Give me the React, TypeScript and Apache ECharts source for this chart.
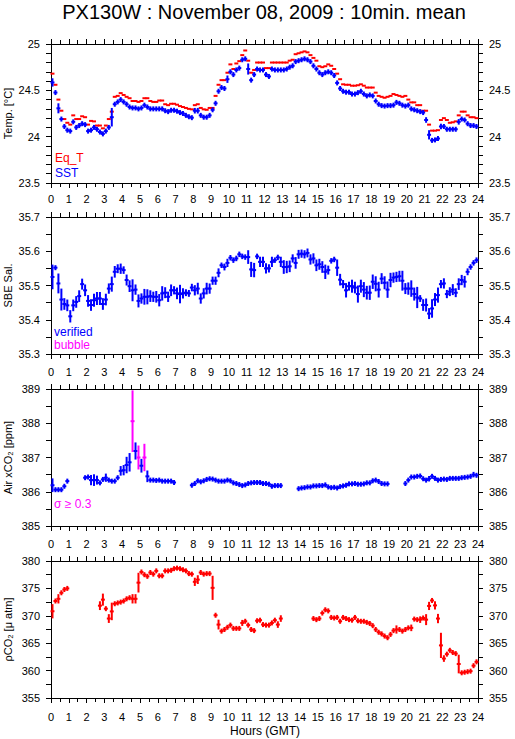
import React, { useEffect, useRef } from "react";
import * as echarts from "echarts";

const FONT = "'Liberation Sans', Arial, Helvetica, sans-serif";
const TITLE = "PX130W : November 08, 2009 : 10min. mean";
const HOUR_TICKS = [0, 24];

// 10-minute means, 144 per day (index i is centred on (i + 0.5) / 6 hours)
const EQ_T = [
  24.68, 24.56, 24.40, 24.28, 24.19, 24.15, 24.13, 24.23, 24.19, 24.19, 24.22, 24.21,
  24.13, 24.17, 24.165, 24.12, 24.12, 24.09, 24.12, 24.19, 24.27, 24.43, 24.44, 24.47,
  24.45, 24.43, 24.415, 24.385, 24.385, 24.375, 24.385, 24.415, 24.415, 24.385, 24.375, 24.375,
  24.39, 24.39, 24.35, 24.34, 24.355, 24.355, 24.345, 24.33, 24.32, 24.31, 24.30, 24.295,
  24.34, 24.35, 24.31, 24.295, 24.29, 24.31, 24.31, 24.44, 24.56, 24.61, 24.61, 24.69,
  24.78, 24.73, 24.79, 24.815, 24.88, 24.93, 24.82, 24.69, 24.72, 24.80, 24.80, 24.80,
  24.74, 24.74, 24.80, 24.80, 24.80, 24.80, 24.80, 24.80, 24.82, 24.83, 24.89, 24.90,
  24.91, 24.92, 24.91, 24.88, 24.85, 24.82, 24.76, 24.75, 24.76, 24.78, 24.765, 24.73,
  24.68, 24.62, 24.565, 24.56, 24.56, 24.55, 24.55, 24.555, 24.565, 24.55, 24.53, 24.53,
  24.53, 24.475, 24.44, 24.43, 24.42, 24.43, 24.44, 24.46, 24.45, 24.44, 24.43, 24.44,
  24.40, 24.37, 24.37, 24.34, 24.34, 24.28, 24.28, 24.13, 24.065, 24.065, 24.07, 24.18,
  24.20, 24.18, 24.15, 24.155, 24.165, 24.23, 24.27, 24.27, 24.23, 24.21, 24.21, 24.20,
];

const SST = [
  24.585, 24.476, 24.306, 24.19, 24.11, 24.07, 24.06, 24.16, 24.10, 24.12, 24.14, 24.13,
  24.06, 24.07, 24.10, 24.08, 24.05, 24.03, 24.06, 24.10, 24.21, 24.35, 24.375, 24.40,
  24.375, 24.35, 24.32, 24.31, 24.31, 24.30, 24.31, 24.34, 24.32, 24.30, 24.30, 24.30,
  24.30, 24.30, 24.28, 24.27, 24.285, 24.285, 24.275, 24.26, 24.25, 24.23, 24.215, 24.205,
  24.28, 24.28, 24.23, 24.21, 24.21, 24.23, 24.29, 24.36, 24.49, 24.53, 24.52, 24.62,
  24.70, 24.67, 24.72, 24.74, 24.83, 24.84, 24.73, 24.61, 24.67, 24.73, 24.72, 24.72,
  24.67, 24.65, 24.73, 24.72, 24.72, 24.72, 24.72, 24.73, 24.75, 24.765, 24.81, 24.82,
  24.83, 24.84, 24.83, 24.81, 24.765, 24.73, 24.69, 24.67, 24.69, 24.70, 24.69, 24.66,
  24.58, 24.52, 24.49, 24.48, 24.48, 24.46, 24.46, 24.475, 24.49, 24.46, 24.44, 24.45,
  24.44, 24.385, 24.35, 24.335, 24.33, 24.335, 24.335, 24.34, 24.37, 24.36, 24.34, 24.33,
  24.34, 24.30, 24.29, 24.28, 24.27, 24.26, 24.18, 24.02, 23.96, 23.965, 23.98, 24.11,
  24.11, 24.08, 24.08, 24.08, 24.08, 24.16, 24.19, 24.18, 24.14, 24.12, 24.12, 24.11,
];

const SST_SD = [
  0.045, 0.015, 0.054, 0.01, 0.01, 0.01, 0.01, 0.01, 0.01, 0.01, 0.01, 0.01,
  0.01, 0.01, 0.01, 0.01, 0.01, 0.01, 0.01, 0.01, 0.1, 0.01, 0.01, 0.01,
  0.01, 0.01, 0.01, 0.01, 0.01, 0.01, 0.01, 0.01, 0.01, 0.01, 0.01, 0.01,
  0.01, 0.01, 0.01, 0.01, 0.01, 0.01, 0.01, 0.01, 0.01, 0.01, 0.01, 0.01,
  0.03, 0.03, 0.01, 0.01, 0.01, 0.01, 0.01, 0.01, 0.01, 0.01, 0.01, 0.04,
  0.01, 0.01, 0.01, 0.01, 0.01, 0.01, 0.06, 0.02, 0.01, 0.01, 0.01, 0.01,
  0.01, 0.01, 0.01, 0.01, 0.01, 0.01, 0.01, 0.01, 0.01, 0.01, 0.01, 0.01,
  0.01, 0.01, 0.01, 0.01, 0.01, 0.01, 0.01, 0.01, 0.01, 0.01, 0.01, 0.01,
  0.01, 0.01, 0.01, 0.01, 0.01, 0.01, 0.01, 0.01, 0.01, 0.01, 0.01, 0.01,
  0.01, 0.01, 0.01, 0.01, 0.01, 0.01, 0.01, 0.01, 0.01, 0.01, 0.01, 0.01,
  0.01, 0.01, 0.01, 0.01, 0.01, 0.01, 0.03, 0.05, 0.01, 0.01, 0.01, 0.03,
  0.01, 0.01, 0.01, 0.01, 0.01, 0.03, 0.01, 0.01, 0.01, 0.01, 0.01, 0.01,
];

const SAL = [
  35.525, 35.552, 35.506, 35.459, 35.446, 35.442, 35.41, 35.442, 35.452, 35.469, 35.504, 35.486,
  35.455, 35.443, 35.457, 35.462, 35.462, 35.446, 35.459, 35.491, 35.504, 35.54, 35.549, 35.549,
  35.545, 35.516, 35.498, 35.486, 35.488, 35.455, 35.462, 35.467, 35.467, 35.469, 35.467, 35.467,
  35.457, 35.477, 35.479, 35.467, 35.486, 35.486, 35.477, 35.475, 35.477, 35.479, 35.477, 35.494,
  35.486, 35.491, 35.462, 35.477, 35.491, 35.491, 35.514, 35.514, 35.537, 35.559, 35.554, 35.566,
  35.581, 35.574, 35.579, 35.591, 35.585, 35.583, 35.583, 35.547, 35.545, 35.585, 35.569, 35.569,
  35.55, 35.55, 35.569, 35.574, 35.582, 35.569, 35.554, 35.554, 35.556, 35.579, 35.566, 35.591,
  35.593, 35.591, 35.595, 35.576, 35.579, 35.559, 35.562, 35.554, 35.54, 35.545, 35.572, 35.576,
  35.552, 35.517, 35.504, 35.486, 35.498, 35.498, 35.494, 35.475, 35.498, 35.488, 35.479, 35.479,
  35.511, 35.505, 35.488, 35.52, 35.508, 35.488, 35.516, 35.523, 35.525, 35.527, 35.514, 35.491,
  35.491, 35.491, 35.475, 35.465, 35.462, 35.443, 35.443, 35.418, 35.433, 35.459, 35.472, 35.504,
  35.506, 35.475, 35.482, 35.488, 35.479, 35.504, 35.516, 35.511, 35.54, 35.554, 35.566, 35.574,
];

const SAL_SD = [
  0.036, 0.005, 0.029, 0.032, 0.017, 0.017, 0.018, 0.017, 0.017, 0.017, 0.016, 0.017,
  0.017, 0.017, 0.019, 0.019, 0.019, 0.017, 0.017, 0.015, 0.022, 0.017, 0.013, 0.015,
  0.011, 0.016, 0.017, 0.032, 0.015, 0.019, 0.015, 0.023, 0.022, 0.017, 0.015, 0.017,
  0.018, 0.021, 0.016, 0.015, 0.017, 0.012, 0.017, 0.027, 0.015, 0.01, 0.01, 0.011,
  0.015, 0.017, 0.015, 0.015, 0.017, 0.015, 0.012, 0.012, 0.013, 0.008, 0.01, 0.012,
  0.008, 0.008, 0.008, 0.008, 0.008, 0.008, 0.02, 0.022, 0.021, 0.008, 0.015, 0.015,
  0.015, 0.012, 0.015, 0.008, 0.008, 0.015, 0.02, 0.018, 0.017, 0.012, 0.017, 0.013,
  0.012, 0.012, 0.013, 0.015, 0.015, 0.017, 0.016, 0.017, 0.021, 0.013, 0.008, 0.008,
  0.024, 0.017, 0.012, 0.021, 0.013, 0.019, 0.017, 0.025, 0.019, 0.022, 0.02, 0.021,
  0.021, 0.022, 0.023, 0.016, 0.019, 0.024, 0.021, 0.015, 0.015, 0.016, 0.029, 0.016,
  0.018, 0.024, 0.019, 0.031, 0.01, 0.017, 0.019, 0.016, 0.027, 0.019, 0.022, 0.012,
  0.015, 0.012, 0.013, 0.016, 0.013, 0.017, 0.015, 0.017, 0.01, 0.008, 0.008, 0.008,
];

const XCO2 = [
  386.19, 386.06, 386.06, 386.06, 386.16, 386.31, null, null, null, null, null, 386.41,
  386.43, 386.34, 386.34, 386.34, 386.26, 386.36, 386.41, 386.34, 386.31, 386.31, 386.41, 386.61,
  386.63, 386.78, 386.86, 388.06, 387.19, 387.0, 386.76, 387.0, 386.45, 386.34, 386.34, 386.33,
  386.34, 386.31, 386.31, 386.31, 386.31, 386.27, null, null, null, null, null, 386.19,
  386.24, 386.32, 386.29, 386.32, 386.36, 386.38, 386.37, 386.34, 386.31, 386.31, 386.31, 386.34,
  386.32, 386.26, 386.24, 386.21, 386.18, 386.2, 386.24, 386.26, 386.27, 386.27, 386.27, 386.24,
  386.24, 386.22, 386.16, 386.18, 386.18, 386.18, null, null, null, null, null, 386.09,
  386.11, 386.12, 386.14, 386.14, 386.17, 386.17, 386.18, 386.18, 386.2, 386.14, 386.12, 386.13,
  386.11, 386.15, 386.17, 386.19, 386.23, 386.23, 386.24, 386.22, 386.22, 386.23, 386.26, 386.26,
  386.32, 386.34, 386.30, 386.24, 386.23, 386.23, null, null, null, null, null, 386.24,
  386.34, 386.43, 386.43, 386.45, 386.46, 386.38, 386.34, 386.38, 386.45, 386.39, 386.34, 386.36,
  386.37, 386.36, 386.39, 386.39, 386.39, 386.39, 386.41, 386.42, 386.43, 386.45, 386.5, 386.48,
];

const XCO2_SD = [
  0.2, 0.03, 0.03, 0.03, 0.04, 0.04, null, null, null, null, null, 0.05,
  0.05, 0.15, 0.17, 0.13, 0.05, 0.05, 0.12, 0.05, 0.05, 0.05, 0.05, 0.14,
  0.15, 0.24, 0.27, 0.9, 0.25, 0.35, 0.2, 0.4, 0.17, 0.04, 0.03, 0.03,
  0.03, 0.03, 0.03, 0.03, 0.03, 0.05, null, null, null, null, null, 0.03,
  0.03, 0.03, 0.03, 0.03, 0.03, 0.03, 0.03, 0.03, 0.03, 0.03, 0.03, 0.03,
  0.03, 0.03, 0.03, 0.03, 0.03, 0.03, 0.03, 0.03, 0.03, 0.03, 0.03, 0.03,
  0.03, 0.03, 0.03, 0.03, 0.03, 0.03, null, null, null, null, null, 0.03,
  0.03, 0.03, 0.03, 0.03, 0.03, 0.03, 0.03, 0.03, 0.03, 0.03, 0.03, 0.03,
  0.03, 0.03, 0.03, 0.03, 0.03, 0.03, 0.03, 0.03, 0.03, 0.03, 0.03, 0.03,
  0.03, 0.03, 0.03, 0.03, 0.03, 0.03, null, null, null, null, null, 0.03,
  0.03, 0.04, 0.03, 0.03, 0.03, 0.05, 0.03, 0.08, 0.03, 0.03, 0.03, 0.03,
  0.03, 0.03, 0.03, 0.03, 0.03, 0.03, 0.03, 0.03, 0.03, 0.03, 0.08, 0.03,
];

const PCO2 = [
  370.83, 372.7, 373.1, 374.2, 374.8, 375.0, null, null, null, null, null, null,
  null, null, null, null, 371.85, 372.95, 371.3, 369.5, 370.8, 372.2, 372.35, 372.5,
  372.7, 373.1, 373.3, 373.1, 373.1, 376.05, 378.0, 377.5, 377.2, 377.9, 377.6, 378.2,
  377.3, 377.3, 378.2, 378.2, 378.3, 378.6, 378.7, 378.6, 378.4, 378.2, 377.7, 377.6,
  376.2, 376.6, 377.9, 377.6, 377.7, 377.7, 375.1, 370.1, 368.4, 367.2, 367.5, 367.9,
  368.3, 367.7, 367.7, 367.7, 368.7, 369.0, 368.3, 367.5, 367.3, 369.1, 369.2, 368.4,
  368.3, 368.3, 368.7, 369.2, 368.4, 369.5, null, null, null, null, null, null,
  null, null, null, null, 369.5, 369.3, 369.5, 370.5, 371.1, 370.9, 369.7, 369.6,
  369.7, 369.0, 369.7, 369.5, 369.3, 369.2, 369.7, 369.1, 369.0, 369.0, 368.8, 368.6,
  368.2, 367.5, 367.0, 366.7, 366.3, 366.0, 366.6, 367.3, 367.5, 367.5, 367.2, 367.5,
  367.8, 367.8, 369.4, 369.3, 369.3, 369.6, 369.3, 371.8, 372.8, 371.9, 369.5, 364.6,
  362.2, 363.0, 363.7, 363.3, 363.1, 361.2, 359.6, 359.7, 359.8, 359.9, 360.9, 361.6,
];

const PCO2_SD = [
  1.3, 0.3, 0.85, 0.3, 0.2, 0.2, null, null, null, null, null, null,
  null, null, null, null, 0.8, 1.1, 0.4, 0.8, 1.6, 0.2, 0.2, 0.2,
  0.2, 0.2, 0.2, 0.85, 0.85, 1.8, 0.2, 0.2, 0.2, 0.2, 0.2, 0.2,
  0.2, 0.2, 0.2, 0.2, 0.2, 0.2, 0.2, 0.2, 0.2, 0.2, 0.2, 0.2,
  0.75, 0.8, 0.2, 0.2, 0.2, 0.2, 2.2, 0.4, 0.9, 0.2, 0.2, 0.2,
  0.2, 0.2, 0.2, 0.2, 0.55, 0.2, 0.2, 0.2, 0.2, 0.2, 0.2, 0.2,
  0.2, 0.2, 0.2, 0.2, 0.6, 0.6, null, null, null, null, null, null,
  null, null, null, null, 0.2, 0.2, 0.2, 0.2, 0.2, 0.2, 0.2, 0.2,
  0.2, 0.2, 0.2, 0.2, 0.2, 0.2, 0.2, 0.2, 0.2, 0.2, 0.2, 0.2,
  0.2, 0.2, 0.2, 0.2, 0.2, 0.2, 0.2, 0.2, 0.75, 0.2, 0.2, 0.2,
  0.2, 0.6, 0.2, 0.2, 0.6, 0.2, 1.0, 0.75, 0.4, 0.75, 0.85, 2.3,
  0.6, 0.2, 0.2, 0.2, 0.2, 1.7, 0.2, 0.2, 0.2, 0.2, 0.3, 0.3,
];

const PANELS = [
  { name: "Temp. [°C]", min: 23.5, max: 25, interval: 0.5, minorSplit: 5, top: 44, height: 139, labelMargin: 10 },
  { name: "SBE Sal.", min: 35.3, max: 35.7, interval: 0.1, minorSplit: 2, top: 217, height: 137, labelMargin: 12 },
  { name: "Air xCO₂ [ppm]", min: 385, max: 389, interval: 1, minorSplit: 2, top: 389, height: 137, labelMargin: 12 },
  { name: "ρCO₂ [μ atm]", min: 355, max: 380, interval: 5, minorSplit: 2, top: 561, height: 137, labelMargin: 13 },
];

const RED = "#ff0000";
const BLUE = "#0000ff";
const MAGENTA = "#ff00ff";
const GRID_LEFT = 51;
const GRID_WIDTH = 427;

function toPoints(vals: (number | null)[], sds: (number | null)[] | null) {
  const out: number[][] = [];
  vals.forEach((v, i) => {
    if (v === null || v === undefined) return;
    const sd = sds ? (sds[i] ?? 0) : 0;
    out.push([(i + 0.5) / 6, v, sd]);
  });
  return out;
}

function crossSeries(k: number, data: number[][], colorOf: (sd: number) => string, vertical: boolean) {
  return {
    type: "custom",
    xAxisIndex: k * 2,
    yAxisIndex: k * 2,
    coordinateSystem: "cartesian2d",
    encode: { x: 0, y: 1 },
    data,
    silent: true,
    renderItem: (params: any, api: any) => {
      const x = api.value(0);
      const y = api.value(1);
      const sd = api.value(2);
      const c = api.coord([x, y]);
      const hw = api.size([1 / 6, 0])[0] / 2 + 0.5;
      const color = colorOf(sd);
      const children: any[] = [
        {
          type: "line",
          shape: { x1: c[0] - hw, y1: c[1], x2: c[0] + hw, y2: c[1] },
          style: { stroke: color, lineWidth: 2 },
        },
      ];
      if (vertical) {
        const t = api.coord([x, y + sd])[1];
        const b = api.coord([x, y - sd])[1];
        children.push({
          type: "line",
          shape: { x1: c[0], y1: Math.min(t, c[1] - 2.5), x2: c[0], y2: Math.max(b, c[1] + 2.5) },
          style: { stroke: color, lineWidth: 2 },
        });
      }
      return { type: "group", children };
    },
  };
}

function buildOption() {
  const grid: any[] = [];
  const xAxis: any[] = [];
  const yAxis: any[] = [];
  const black = { color: "#000", width: 1 };
  PANELS.forEach((p, k) => {
    grid.push({ left: GRID_LEFT, width: GRID_WIDTH, top: p.top, height: p.height });
    const xBase = {
      gridIndex: k,
      type: "value",
      min: HOUR_TICKS[0],
      max: HOUR_TICKS[1],
      interval: 1,
      axisLine: { show: true, onZero: false, lineStyle: black },
      axisTick: { show: true, length: 5, lineStyle: black },
      minorTick: { show: true, splitNumber: 2, length: 4, lineStyle: black },
      splitLine: { show: false },
      minorSplitLine: { show: false },
    };
    xAxis.push({
      ...xBase,
      position: "bottom",
      axisLabel: { show: true, color: "#000", fontSize: 11, fontFamily: FONT, margin: p.labelMargin },
    });
    xAxis.push({ ...xBase, position: "top", axisLabel: { show: false } });
    const yBase = {
      gridIndex: k,
      type: "value",
      min: p.min,
      max: p.max,
      interval: p.interval,
      axisLine: { show: true, onZero: false, lineStyle: black },
      axisTick: { show: true, length: 5, lineStyle: black },
      minorTick: { show: true, splitNumber: p.minorSplit, length: 5, lineStyle: black },
      splitLine: { show: false },
      minorSplitLine: { show: false },
      axisLabel: { show: true, color: "#000", fontSize: 11, fontFamily: FONT, margin: 11 },
    };
    yAxis.push({ ...yBase, position: "left" });
    yAxis.push({ ...yBase, position: "right" });
  });

  const series: any[] = [
    crossSeries(0, toPoints(EQ_T, null), () => RED, false),
    crossSeries(0, toPoints(SST, SST_SD), () => BLUE, true),
    crossSeries(1, toPoints(SAL, SAL_SD), () => BLUE, true),
    crossSeries(2, toPoints(XCO2, XCO2_SD), (sd) => (sd >= 0.3 ? MAGENTA : BLUE), true),
    crossSeries(3, toPoints(PCO2, PCO2_SD), () => RED, true),
  ];

  const txt = (text: string, x: number, y: number, fill: string, size: number, align = "left") => ({
    type: "text",
    x,
    y,
    silent: true,
    style: {
      text,
      fill,
      fontSize: size,
      fontFamily: FONT,
      align,
      verticalAlign: "middle",
    },
  });

  const graphic: any[] = [
    txt(TITLE, 264, 12, "#000", 20, "center"),
    txt("Hours (GMT)", 265, 731, "#000", 12, "center"),
    txt("Eq_T", 55, 158, RED, 12),
    txt("SST", 55, 172.5, BLUE, 12),
    txt("verified", 54, 332, BLUE, 12),
    txt("bubble", 54, 345, MAGENTA, 12),
    txt("σ ≥ 0.3", 54, 504, MAGENTA, 12),
  ];
  PANELS.forEach((p) => {
    graphic.push({
      type: "text",
      x: 8,
      y: p.top + p.height / 2,
      rotation: Math.PI / 2,
      silent: true,
      style: { text: p.name, fill: "#000", fontSize: 11, fontFamily: FONT, align: "center", verticalAlign: "middle" },
    });
  });

  return {
    animation: false,
    backgroundColor: "#ffffff",
    grid,
    xAxis,
    yAxis,
    series,
    graphic,
  };
}

export default function App() {
  const ref = useRef<HTMLDivElement>(null);
  useEffect(() => {
    if (!ref.current) return;
    const chart = echarts.init(ref.current, null, { renderer: "svg" });
    chart.setOption(buildOption() as any);
    return () => chart.dispose();
  }, []);
  return (
    <div
      ref={ref}
      style={{ position: "fixed", left: 0, top: 0, width: 515, height: 739, background: "#fff" }}
    />
  );
}
